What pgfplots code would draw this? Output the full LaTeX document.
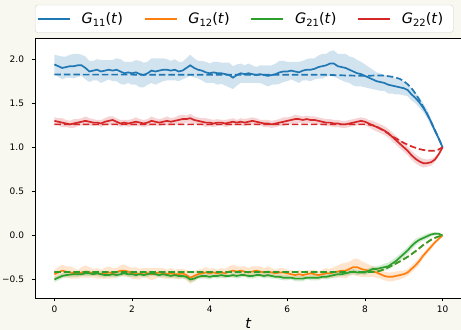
\documentclass[border=0pt]{standalone}
\usepackage{fontspec}
\setmainfont{DejaVu Sans}
\usepackage{pgfplots}
\pgfplotsset{compat=1.18}
\usepackage{pgfplotstable}
\usepgfplotslibrary{fillbetween}
\definecolor{c0}{HTML}{1F77B4}
\definecolor{c1}{HTML}{FF7F0E}
\definecolor{c2}{HTML}{2CA02C}
\definecolor{c3}{HTML}{D62728}
\definecolor{bgc}{HTML}{F8F8F0}
\pagecolor{bgc}
\newcommand\G[1]{\textit{G}\raisebox{-0.32ex}{\fontsize{10}{10}\selectfont #1}(\textit{t})}

\pgfplotstableread{
t m s
0.0 1.94 0.11
0.1 1.92 0.12
0.2 1.90 0.13
0.3 1.91 0.12
0.4 1.92 0.13
0.5 1.92 0.14
0.6 1.93 0.13
0.7 1.93 0.12
0.8 1.90 0.13
0.9 1.86 0.12
1.0 1.87 0.11
1.1 1.88 0.12
1.2 1.86 0.13
1.3 1.87 0.12
1.4 1.88 0.11
1.5 1.87 0.12
1.6 1.88 0.13
1.7 1.86 0.14
1.8 1.84 0.13
1.9 1.85 0.12
2.0 1.84 0.13
2.1 1.85 0.14
2.2 1.83 0.15
2.3 1.82 0.14
2.4 1.84 0.13
2.5 1.87 0.14
2.6 1.86 0.15
2.7 1.87 0.14
2.8 1.88 0.13
2.9 1.88 0.12
3.0 1.87 0.11
3.1 1.88 0.12
3.2 1.86 0.11
3.3 1.87 0.10
3.4 1.90 0.11
3.5 1.93 0.12
3.6 1.90 0.11
3.7 1.88 0.10
3.8 1.87 0.11
3.9 1.85 0.12
4.0 1.84 0.11
4.1 1.85 0.12
4.2 1.84 0.13
4.3 1.84 0.12
4.4 1.83 0.13
4.5 1.82 0.14
4.6 1.79 0.13
4.7 1.82 0.12
4.8 1.84 0.11
4.9 1.83 0.10
5.0 1.84 0.11
5.1 1.83 0.10
5.2 1.82 0.09
5.3 1.83 0.10
5.4 1.82 0.11
5.5 1.81 0.12
5.6 1.82 0.11
5.7 1.83 0.12
5.8 1.85 0.13
5.9 1.86 0.12
6.0 1.86 0.11
6.1 1.87 0.10
6.2 1.86 0.11
6.3 1.85 0.12
6.4 1.87 0.11
6.5 1.88 0.12
6.6 1.88 0.13
6.7 1.89 0.12
6.8 1.91 0.13
6.9 1.92 0.14
7.0 1.93 0.13
7.1 1.95 0.14
7.2 1.95 0.15
7.3 1.92 0.14
7.4 1.91 0.15
7.5 1.90 0.16
7.6 1.88 0.15
7.7 1.86 0.16
7.8 1.84 0.15
7.9 1.83 0.14
8.0 1.81 0.13
8.1 1.79 0.12
8.2 1.77 0.11
8.3 1.75 0.10
8.4 1.74 0.10
8.5 1.73 0.09
8.6 1.71 0.10
8.7 1.70 0.09
8.8 1.69 0.09
8.9 1.68 0.08
9.0 1.67 0.08
9.1 1.65 0.07
9.2 1.60 0.07
9.3 1.56 0.06
9.4 1.51 0.06
9.5 1.45 0.05
9.6 1.38 0.05
9.7 1.29 0.04
9.8 1.19 0.03
9.9 1.10 0.02
10.0 1.00 0.00
}\tA

\pgfplotstableread{
t m s
0.0 -0.44 0.05
0.1 -0.42 0.06
0.2 -0.40 0.07
0.3 -0.41 0.06
0.4 -0.42 0.07
0.5 -0.43 0.06
0.6 -0.44 0.05
0.7 -0.42 0.06
0.8 -0.41 0.07
0.9 -0.42 0.06
1.0 -0.43 0.05
1.1 -0.43 0.06
1.2 -0.44 0.05
1.3 -0.43 0.06
1.4 -0.42 0.07
1.5 -0.43 0.06
1.6 -0.42 0.05
1.7 -0.40 0.06
1.8 -0.40 0.07
1.9 -0.41 0.06
2.0 -0.43 0.06
2.1 -0.43 0.07
2.2 -0.44 0.06
2.3 -0.42 0.05
2.4 -0.43 0.06
2.5 -0.44 0.07
2.6 -0.43 0.06
2.7 -0.42 0.05
2.8 -0.43 0.06
2.9 -0.44 0.05
3.0 -0.43 0.06
3.1 -0.44 0.05
3.2 -0.44 0.06
3.3 -0.43 0.05
3.4 -0.45 0.06
3.5 -0.48 0.07
3.6 -0.46 0.06
3.7 -0.44 0.05
3.8 -0.43 0.05
3.9 -0.42 0.06
4.0 -0.43 0.05
4.1 -0.42 0.05
4.2 -0.43 0.04
4.3 -0.42 0.05
4.4 -0.43 0.05
4.5 -0.41 0.06
4.6 -0.40 0.07
4.7 -0.41 0.06
4.8 -0.40 0.05
4.9 -0.41 0.06
5.0 -0.42 0.05
5.1 -0.41 0.06
5.2 -0.40 0.05
5.3 -0.41 0.06
5.4 -0.42 0.05
5.5 -0.41 0.06
5.6 -0.42 0.05
5.7 -0.43 0.04
5.8 -0.42 0.05
5.9 -0.42 0.05
6.0 -0.43 0.04
6.1 -0.44 0.05
6.2 -0.45 0.04
6.3 -0.44 0.05
6.4 -0.45 0.04
6.5 -0.44 0.05
6.6 -0.43 0.04
6.7 -0.44 0.05
6.8 -0.45 0.04
6.9 -0.44 0.05
7.0 -0.43 0.06
7.1 -0.43 0.05
7.2 -0.42 0.06
7.3 -0.41 0.07
7.4 -0.40 0.08
7.5 -0.40 0.09
7.6 -0.38 0.08
7.7 -0.36 0.09
7.8 -0.36 0.10
7.9 -0.38 0.09
8.0 -0.39 0.08
8.1 -0.40 0.07
8.2 -0.41 0.06
8.3 -0.42 0.06
8.4 -0.44 0.05
8.5 -0.46 0.05
8.6 -0.47 0.05
8.7 -0.47 0.05
8.8 -0.46 0.05
8.9 -0.45 0.05
9.0 -0.44 0.04
9.1 -0.42 0.04
9.2 -0.38 0.04
9.3 -0.34 0.04
9.4 -0.29 0.04
9.5 -0.23 0.03
9.6 -0.18 0.03
9.7 -0.13 0.03
9.8 -0.08 0.02
9.9 -0.04 0.01
10.0 0.00 0.00
}\tB

\pgfplotstableread{
t m s
0.0 -0.50 0.03
0.1 -0.48 0.03
0.2 -0.46 0.03
0.3 -0.45 0.03
0.4 -0.445 0.03
0.5 -0.44 0.03
0.6 -0.44 0.03
0.7 -0.44 0.02
0.8 -0.43 0.03
0.9 -0.43 0.03
1.0 -0.44 0.02
1.1 -0.43 0.03
1.2 -0.44 0.03
1.3 -0.45 0.03
1.4 -0.45 0.02
1.5 -0.44 0.03
1.6 -0.45 0.03
1.7 -0.44 0.03
1.8 -0.43 0.02
1.9 -0.44 0.03
2.0 -0.44 0.03
2.1 -0.45 0.03
2.2 -0.44 0.02
2.3 -0.45 0.03
2.4 -0.44 0.03
2.5 -0.43 0.03
2.6 -0.44 0.02
2.7 -0.45 0.03
2.8 -0.44 0.03
2.9 -0.45 0.03
3.0 -0.46 0.02
3.1 -0.45 0.03
3.2 -0.46 0.03
3.3 -0.46 0.03
3.4 -0.47 0.03
3.5 -0.50 0.03
3.6 -0.49 0.03
3.7 -0.47 0.02
3.8 -0.46 0.03
3.9 -0.46 0.03
4.0 -0.47 0.03
4.1 -0.46 0.02
4.2 -0.46 0.03
4.3 -0.45 0.03
4.4 -0.46 0.03
4.5 -0.46 0.02
4.6 -0.45 0.03
4.7 -0.46 0.03
4.8 -0.45 0.03
4.9 -0.45 0.02
5.0 -0.46 0.03
5.1 -0.46 0.03
5.2 -0.45 0.03
5.3 -0.45 0.02
5.4 -0.46 0.03
5.5 -0.45 0.03
5.6 -0.46 0.03
5.7 -0.47 0.02
5.8 -0.47 0.03
5.9 -0.48 0.03
6.0 -0.48 0.03
6.1 -0.48 0.02
6.2 -0.49 0.03
6.3 -0.49 0.03
6.4 -0.49 0.03
6.5 -0.48 0.02
6.6 -0.48 0.03
6.7 -0.48 0.03
6.8 -0.48 0.03
6.9 -0.47 0.02
7.0 -0.47 0.03
7.1 -0.46 0.03
7.2 -0.45 0.03
7.3 -0.44 0.03
7.4 -0.44 0.02
7.5 -0.43 0.03
7.6 -0.42 0.03
7.7 -0.41 0.03
7.8 -0.42 0.03
7.9 -0.42 0.02
8.0 -0.42 0.03
8.1 -0.40 0.03
8.2 -0.38 0.03
8.3 -0.38 0.03
8.4 -0.37 0.03
8.5 -0.36 0.04
8.6 -0.35 0.04
8.7 -0.32 0.04
8.8 -0.29 0.04
8.9 -0.25 0.04
9.0 -0.21 0.04
9.1 -0.17 0.04
9.2 -0.12 0.04
9.3 -0.08 0.04
9.4 -0.05 0.03
9.5 -0.03 0.03
9.6 -0.01 0.03
9.7 0.01 0.02
9.8 0.02 0.02
9.9 0.02 0.01
10.0 0.00 0.00
}\tC

\pgfplotstableread{
t m s
0.0 1.30 0.04
0.1 1.29 0.04
0.2 1.28 0.05
0.3 1.27 0.04
0.4 1.26 0.04
0.5 1.27 0.05
0.6 1.28 0.04
0.7 1.29 0.04
0.8 1.30 0.05
0.9 1.29 0.04
1.0 1.28 0.04
1.1 1.28 0.03
1.2 1.27 0.04
1.3 1.29 0.04
1.4 1.30 0.05
1.5 1.31 0.04
1.6 1.29 0.04
1.7 1.27 0.04
1.8 1.28 0.03
1.9 1.27 0.04
2.0 1.28 0.04
2.1 1.29 0.05
2.2 1.28 0.04
2.3 1.27 0.04
2.4 1.28 0.04
2.5 1.30 0.05
2.6 1.29 0.04
2.7 1.28 0.04
2.8 1.29 0.04
2.9 1.30 0.05
3.0 1.29 0.04
3.1 1.30 0.04
3.2 1.31 0.05
3.3 1.32 0.05
3.4 1.32 0.04
3.5 1.33 0.05
3.6 1.31 0.04
3.7 1.30 0.04
3.8 1.29 0.04
3.9 1.28 0.05
4.0 1.28 0.04
4.1 1.27 0.04
4.2 1.28 0.04
4.3 1.28 0.03
4.4 1.27 0.04
4.5 1.28 0.04
4.6 1.29 0.04
4.7 1.28 0.03
4.8 1.29 0.04
4.9 1.28 0.04
5.0 1.29 0.04
5.1 1.30 0.04
5.2 1.29 0.04
5.3 1.28 0.03
5.4 1.27 0.04
5.5 1.27 0.04
5.6 1.26 0.04
5.7 1.27 0.04
5.8 1.28 0.04
5.9 1.29 0.05
6.0 1.30 0.04
6.1 1.31 0.04
6.2 1.32 0.05
6.3 1.32 0.04
6.4 1.31 0.04
6.5 1.32 0.04
6.6 1.31 0.04
6.7 1.31 0.04
6.8 1.30 0.04
6.9 1.29 0.04
7.0 1.28 0.04
7.1 1.28 0.04
7.2 1.27 0.04
7.3 1.27 0.04
7.4 1.26 0.04
7.5 1.26 0.04
7.6 1.27 0.04
7.7 1.28 0.04
7.8 1.29 0.04
7.9 1.30 0.04
8.0 1.29 0.04
8.1 1.27 0.04
8.2 1.25 0.05
8.3 1.23 0.05
8.4 1.21 0.05
8.5 1.19 0.05
8.6 1.16 0.05
8.7 1.12 0.05
8.8 1.08 0.05
8.9 1.04 0.05
9.0 1.00 0.05
9.1 0.96 0.05
9.2 0.91 0.05
9.3 0.87 0.05
9.4 0.84 0.05
9.5 0.82 0.05
9.6 0.82 0.04
9.7 0.83 0.04
9.8 0.86 0.03
9.9 0.92 0.02
10.0 1.00 0.00
}\tD

\begin{document}
\begin{tikzpicture}
\begin{axis}[
  at={(35bp,32bp)}, anchor=south west,
  scale only axis, width=427bp, height=260bp,
  xmin=-0.5, xmax=10.5, ymin=-0.71, ymax=2.24,
  axis background/.style={fill=white},
  axis line style={black, line width=0.8bp},
  xtick={0,2,4,6,8,10},
  xticklabels={0,2,4,6,8,10},
  ytick={-0.5,0,0.5,1,1.5,2},
  yticklabels={−0.5,0.0,0.5,1.0,1.5,2.0},
  xtick pos=bottom, ytick pos=left,
  tick align=outside,
  major tick length=3.5bp,
  every tick/.style={black, line width=0.8bp},
  /pgf/number format/assume math mode=true,
  xticklabel style={font=\fontsize{9}{10}\selectfont, yshift=-1bp},
  yticklabel style={font=\fontsize{9}{10}\selectfont, xshift=-4bp},
  xlabel={\textit{t}},
  xlabel style={font=\fontsize{14.5}{16}\selectfont, at={(axis description cs:0.5,0)}, anchor=base, yshift=-30bp},
  legend columns=4,
  legend image code/.code={\draw[#1, line width=1.5bp] (0bp,0bp) -- (32bp,0bp);},
  legend style={at={(axis description cs:0,1)}, anchor=south west, yshift=5.3bp,
    draw=black!18, fill=white, rounded corners=2.5bp,
    inner xsep=2bp, inner ysep=6.5bp,
    nodes={inner xsep=0pt, inner ysep=1pt},
    font=\fontsize{14.5}{16}\selectfont},
  legend cell align=left,
]
% G11
\addplot[name path=A1, draw=none, forget plot] table[x=t, y expr=\thisrow{m}+\thisrow{s}] {\tA};
\addplot[name path=B1, draw=none, forget plot] table[x=t, y expr=\thisrow{m}-\thisrow{s}] {\tA};
\addplot[c0, fill opacity=0.2, draw=none, forget plot] fill between[of=A1 and B1];
\addplot[c0, line width=1.7bp] table[x=t, y=m] {\tA};
\addlegendentry{\rule{11bp}{0pt}\G{11}\rule{21bp}{0pt}}
\addplot[c0, line width=1.7bp, dash pattern=on 6.5bp off 3bp, forget plot] coordinates {
(0,1.825)(7,1.822)(7.5,1.815)(8,1.81)(8.3,1.815)(8.5,1.813)(8.7,1.80)(8.8,1.79)(8.9,1.775)(9.0,1.75)(9.1,1.715)(9.2,1.67)(9.3,1.61)(9.4,1.54)(9.5,1.46)(9.6,1.38)(9.7,1.29)(9.8,1.20)(9.9,1.10)(10,1.00)};
% G12
\addplot[name path=A2, draw=none, forget plot] table[x=t, y expr=\thisrow{m}+\thisrow{s}] {\tB};
\addplot[name path=B2, draw=none, forget plot] table[x=t, y expr=\thisrow{m}-\thisrow{s}] {\tB};
\addplot[c1, fill opacity=0.2, draw=none, forget plot] fill between[of=A2 and B2];
\addplot[c1, line width=1.7bp] table[x=t, y=m] {\tB};
\addlegendentry{\rule{11bp}{0pt}\G{12}\rule{21bp}{0pt}}
\addplot[c1, line width=1.7bp, dash pattern=on 6.5bp off 3bp, forget plot] coordinates {
(0,-0.415)(8.2,-0.415)(8.3,-0.41)(8.4,-0.40)(8.5,-0.383)(8.6,-0.362)(8.7,-0.34)(8.8,-0.318)(8.9,-0.295)(9.0,-0.27)(9.1,-0.243)(9.2,-0.213)(9.3,-0.18)(9.4,-0.145)(9.5,-0.11)(9.6,-0.08)(9.7,-0.05)(9.8,-0.028)(9.9,-0.012)(10,0.0)};
% G21
\addplot[name path=A3, draw=none, forget plot] table[x=t, y expr=\thisrow{m}+\thisrow{s}] {\tC};
\addplot[name path=B3, draw=none, forget plot] table[x=t, y expr=\thisrow{m}-\thisrow{s}] {\tC};
\addplot[c2, fill opacity=0.2, draw=none, forget plot] fill between[of=A3 and B3];
\addplot[c2, line width=1.7bp] table[x=t, y=m] {\tC};
\addlegendentry{\rule{11bp}{0pt}\G{21}\rule{21bp}{0pt}}
\addplot[c2, line width=1.7bp, dash pattern=on 6.5bp off 3bp, forget plot] coordinates {
(0,-0.415)(8.2,-0.415)(8.3,-0.41)(8.4,-0.40)(8.5,-0.383)(8.6,-0.362)(8.7,-0.34)(8.8,-0.318)(8.9,-0.295)(9.0,-0.27)(9.1,-0.243)(9.2,-0.213)(9.3,-0.18)(9.4,-0.145)(9.5,-0.11)(9.6,-0.08)(9.7,-0.05)(9.8,-0.028)(9.9,-0.012)(10,0.0)};
% G22
\addplot[name path=A4, draw=none, forget plot] table[x=t, y expr=\thisrow{m}+\thisrow{s}] {\tD};
\addplot[name path=B4, draw=none, forget plot] table[x=t, y expr=\thisrow{m}-\thisrow{s}] {\tD};
\addplot[c3, fill opacity=0.2, draw=none, forget plot] fill between[of=A4 and B4];
\addplot[c3, line width=1.7bp] table[x=t, y=m] {\tD};
\addlegendentry{\rule{11bp}{0pt}\G{22}\rule{8bp}{0pt}}
\addplot[c3, line width=1.7bp, dash pattern=on 6.5bp off 3bp, forget plot] coordinates {
(0,1.26)(8.0,1.26)(8.1,1.257)(8.2,1.25)(8.3,1.235)(8.4,1.21)(8.5,1.185)(8.6,1.155)(8.7,1.125)(8.8,1.10)(8.9,1.075)(9.0,1.05)(9.1,1.03)(9.2,1.01)(9.3,0.995)(9.4,0.98)(9.5,0.97)(9.6,0.963)(9.7,0.96)(9.8,0.962)(9.9,0.975)(10,1.00)};
\end{axis}
\pgfresetboundingbox
\path[use as bounding box] (0,0) rectangle (461bp,330bp);
\end{tikzpicture}
\end{document}
